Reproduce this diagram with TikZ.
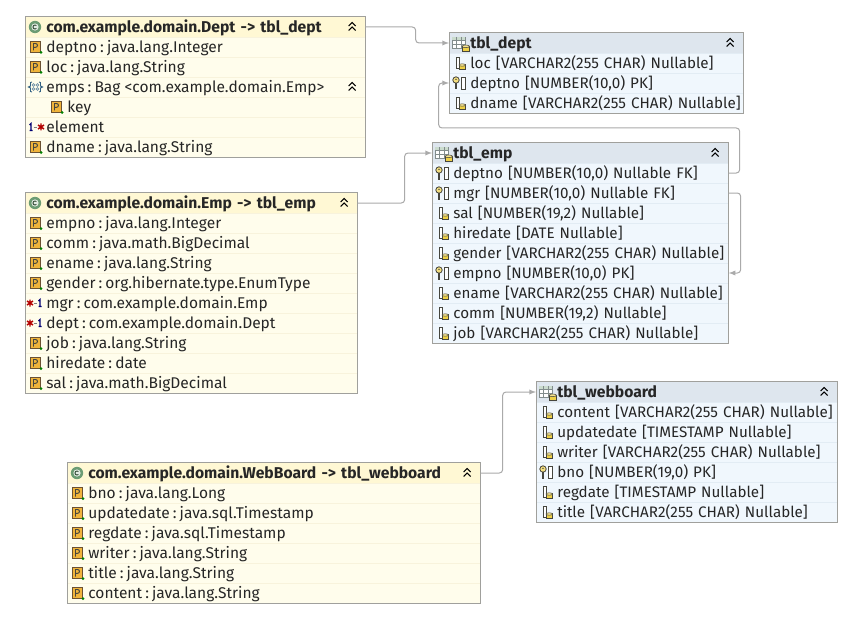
\documentclass[tikz,border=0pt]{standalone}
\usepackage{fontspec}
\setmainfont{Fira Sans}
\usetikzlibrary{arrows}
\definecolor{classfill}{RGB}{255, 253, 236}
\definecolor{classhead}{RGB}{255, 248, 212}
\definecolor{classsep}{RGB}{248, 243, 220}
\definecolor{tablefill}{RGB}{240, 247, 253}
\definecolor{tablehead}{RGB}{222, 230, 238}
\definecolor{tablesep}{RGB}{226, 236, 244}
\definecolor{frameline}{RGB}{160, 160, 156}
\definecolor{linkgray}{RGB}{170, 170, 170}
\definecolor{icondark}{RGB}{70, 70, 62}
\definecolor{iconyellow}{RGB}{238, 208, 70}
\definecolor{attrorange}{RGB}{240, 180, 60}
\definecolor{classgreen}{RGB}{108, 156, 116}
\definecolor{bagblue}{RGB}{50, 96, 130}
\definecolor{gridgray}{RGB}{130, 140, 140}
\newcommand{\tightspaces}{\spaceskip 0.2em\relax\xspaceskip 0.2em\relax}
\tikzstyle{rowbase}=[anchor=west,inner xsep=0pt,inner ysep=0pt,minimum height=15pt,text height=11pt,text depth=2.2pt,align=left,text=black!85,execute at begin node={\hspace*{15.75pt}}]
\tikzstyle{classrow}=[rowbase,fill=classfill,draw=classsep,line width=0.5pt,font=\fontsize{11.65pt}{13pt}\selectfont,execute at begin node={\tightspaces},text width=#1*0.75pt]
\tikzstyle{classhd}=[rowbase,fill=classhead,draw=classhead,line width=0.5pt,font=\fontsize{11.75pt}{13pt}\selectfont\bfseries,text width=#1*0.75pt]
\tikzstyle{tablerow}=[rowbase,fill=tablefill,draw=tablesep,line width=0.5pt,font=\fontsize{11.4pt}{13pt}\selectfont,text width=#1*0.75pt]
\tikzstyle{tablehd}=[rowbase,fill=tablehead,draw=tablehead,line width=0.5pt,font=\fontsize{11.75pt}{13pt}\selectfont\bfseries,text width=#1*0.75pt]
\tikzstyle{boxframe}=[draw=frameline,line width=0.75pt]
\tikzstyle{maplink}=[->,>=latex,draw=linkgray,line width=0.75pt,rounded corners=2.5pt]
\tikzset{
  attricon/.pic={
    \draw[fill=attrorange,draw=icondark!80!orange,line width=0.5pt] (5,-5.5) rectangle (15.5,5);
    \draw[draw=icondark,line width=0.7pt] (8.5,3.5) -- (8.5,-3.5) -- (10.5,-3.5) arc (-90:90:2 and 1.9) -- (8.5,0.3);
    \fill[green!50!black] (16,5.5) circle (1.5);
  },
  colicon/.pic={
    \draw[fill=white,draw=icondark,line width=0.6pt] (7,-6) rectangle (10,5);
    \draw[fill=iconyellow,draw=icondark,line width=0.5pt] (10,1.5) rectangle (16.5,6.5);
    \draw[fill=iconyellow!60!white,draw=icondark,line width=0.4pt] (13.25,2) ellipse (3.25 and 1.2);
  },
  keyicon/.pic={
    \draw[fill=iconyellow!70!white,draw=icondark,line width=0.6pt] (7,-3) circle (3.2);
    \fill[icondark] (7,-3.6) circle (0.8);
    \draw[draw=icondark,line width=1.3pt] (7,0.2) -- (7,6.5);
    \draw[fill=white,draw=icondark,line width=0.6pt] (12.5,-6) rectangle (16,6.5);
  },
  tableicon/.pic={
    \draw[fill=white,draw=gridgray,line width=0.55pt] (3,-6) rectangle (16,5);
    \fill[classgreen!35!white] (3.4,-5.6) rectangle (15.6,-3);
    \draw[draw=gridgray,line width=0.4pt] (3,-3) -- (16,-3) (3,1) -- (16,1) (7.5,-6) -- (7.5,5) (12,-6) -- (12,5);
    \draw[fill=iconyellow,draw=icondark,line width=0.5pt] (13,3) rectangle (20.5,8);
    \draw[fill=iconyellow!60!white,draw=icondark,line width=0.4pt] (16.75,3.3) ellipse (3.75 and 1.3);
  },
  classicon/.pic={
    \fill[classgreen] (10,0) circle (6.2);
    \fill[white!80!classgreen] (10,0) circle (3.6);
    \draw[classgreen!50!black,line width=0.7pt] (11.4,-1.4) arc (-45:-315:2);
  },
  bagicon/.pic={
    \draw[draw=bagblue,line width=0.7pt] (7,-5) -- (5.5,-4.5) -- (5.5,-1) -- (3.5,0) -- (5.5,1) -- (5.5,4.5) -- (7,5);
    \draw[draw=bagblue,line width=0.7pt] (14,-5) -- (15.5,-4.5) -- (15.5,-1) -- (17.5,0) -- (15.5,1) -- (15.5,4.5) -- (14,5);
    \draw[draw=bagblue!70!white,line width=0.5pt] (8.5,-2) circle (1.3) (12.5,-2) circle (1.3) (8.5,2) circle (1.3) (12.5,2) circle (1.3);
  },
  oneicon/.pic={
    \draw[draw=blue!45!black,line width=0.9pt] (#1-1.5,-2) -- (#1,-3.5) -- (#1,3.5) (#1-1.5,3.5) -- (#1+1.5,3.5);
  },
  manyicon/.pic={
    \draw[draw=red!70!black,line width=1.1pt] (#1,-3.5) -- (#1,3.5) (#1-3,-2) -- (#1+3,2) (#1-3,2) -- (#1+3,-2);
  },
  linkdash/.pic={
    \draw[draw=gray,line width=0.6pt] (8.5,0) -- (12,0);
  },
  collapseicon/.pic={
    \draw[draw=black,line width=0.8pt] (-17,-1) -- (-13.5,-4.5) -- (-10,-1) (-17,3.5) -- (-13.5,0) -- (-10,3.5);
  }
}

\begin{document}
\begin{tikzpicture}[x=0.75pt,y=-0.75pt]
\useasboundingbox[fill=white] (0,0) rectangle (841,631);

% class Dept
\node[classhd=340] (D0) at (25,27) {com.example.domain.Dept -> tbl\_dept};
\node[classrow=340] (D1) at (25,47) {deptno : java.lang.Integer};
\node[classrow=340] (D2) at (25,67) {loc : java.lang.String};
\node[classrow=340] (D3) at (25,87) {emps : Bag\hspace{.28em}<com.example.domain.Emp>};
\node[classrow=340] (D4) at (25,107) {\hspace*{15.75pt}key};
\node[classrow=340] (D5) at (25,127) {element};
\node[classrow=340] (D6) at (25,147) {dname : java.lang.String};
\draw[boxframe] (D0.north west) rectangle (D6.south east);
\pic at (D0.west) {classicon};
\pic at (D0.east) {collapseicon};
\pic at (D1.west) {attricon};
\pic at (D2.west) {attricon};
\pic at (D3.west) {bagicon};
\pic at (D3.east) {collapseicon};
\pic[xshift=15.75pt] at (D4.west) {attricon};
\pic at (D5.west) {oneicon=6};
\pic at (D5.west) {linkdash};
\pic at (D5.west) {manyicon=16};
\pic at (D6.west) {attricon};

% class Emp
\node[classhd=332] (E0) at (25,203) {com.example.domain.Emp -> tbl\_emp};
\node[classrow=332] (E1) at (25,223) {empno : java.lang.Integer};
\node[classrow=332] (E2) at (25,243) {comm : java.math.BigDecimal};
\node[classrow=332] (E3) at (25,263) {ename : java.lang.String};
\node[classrow=332] (E4) at (25,283) {gender : org.hibernate.type.EnumType};
\node[classrow=332] (E5) at (25,303) {mgr : com.example.domain.Emp};
\node[classrow=332] (E6) at (25,323) {dept : com.example.domain.Dept};
\node[classrow=332] (E7) at (25,343) {job : java.lang.String};
\node[classrow=332] (E8) at (25,363) {hiredate : date};
\node[classrow=332] (E9) at (25,383) {sal : java.math.BigDecimal};
\draw[boxframe] (E0.north west) rectangle (E9.south east);
\pic at (E0.west) {classicon};
\pic at (E0.east) {collapseicon};
\pic at (E1.west) {attricon};
\pic at (E2.west) {attricon};
\pic at (E3.west) {attricon};
\pic at (E4.west) {attricon};
\pic at (E5.west) {manyicon=5};
\pic at (E5.west) {linkdash};
\pic at (E5.west) {oneicon=15};
\pic at (E6.west) {manyicon=5};
\pic at (E6.west) {linkdash};
\pic at (E6.west) {oneicon=15};
\pic at (E7.west) {attricon};
\pic at (E8.west) {attricon};
\pic at (E9.west) {attricon};

% class WebBoard
\node[classhd=413] (W0) at (67,473) {com.example.domain.WebBoard -> tbl\_webboard};
\node[classrow=413] (W1) at (67,493) {bno : java.lang.Long};
\node[classrow=413] (W2) at (67,513) {updatedate : java.sql.Timestamp};
\node[classrow=413] (W3) at (67,533) {regdate : java.sql.Timestamp};
\node[classrow=413] (W4) at (67,553) {writer : java.lang.String};
\node[classrow=413] (W5) at (67,573) {title : java.lang.String};
\node[classrow=413] (W6) at (67,593) {content : java.lang.String};
\draw[boxframe] (W0.north west) rectangle (W6.south east);
\pic at (W0.west) {classicon};
\pic at (W0.east) {collapseicon};
\pic at (W1.west) {attricon};
\pic at (W2.west) {attricon};
\pic at (W3.west) {attricon};
\pic at (W4.west) {attricon};
\pic at (W5.west) {attricon};
\pic at (W6.west) {attricon};

% table tbl_dept
\node[tablehd=294] (TD0) at (449,43) {tbl\_dept};
\node[tablerow=294] (TD1) at (449,63) {loc [VARCHAR2(255 CHAR) Nullable]};
\node[tablerow=294] (TD2) at (449,83) {deptno [NUMBER(10,0) PK]};
\node[tablerow=294] (TD3) at (449,103) {dname [VARCHAR2(255 CHAR) Nullable]};
\draw[boxframe] (TD0.north west) rectangle (TD3.south east);
\pic at (TD0.west) {tableicon};
\pic at (TD0.east) {collapseicon};
\pic at (TD1.west) {colicon};
\pic at (TD2.west) {keyicon};
\pic at (TD3.west) {colicon};

% table tbl_emp
\node[tablehd=296] (TE0) at (432,153) {tbl\_emp};
\node[tablerow=296] (TE1) at (432,173) {deptno [NUMBER(10,0) Nullable FK]};
\node[tablerow=296] (TE2) at (432,193) {mgr [NUMBER(10,0) Nullable FK]};
\node[tablerow=296] (TE3) at (432,213) {sal [NUMBER(19,2) Nullable]};
\node[tablerow=296] (TE4) at (432,233) {hiredate [DATE Nullable]};
\node[tablerow=296] (TE5) at (432,253) {gender [VARCHAR2(255 CHAR) Nullable]};
\node[tablerow=296] (TE6) at (432,273) {empno [NUMBER(10,0) PK]};
\node[tablerow=296] (TE7) at (432,293) {ename [VARCHAR2(255 CHAR) Nullable]};
\node[tablerow=296] (TE8) at (432,313) {comm [NUMBER(19,2) Nullable]};
\node[tablerow=296] (TE9) at (432,333) {job [VARCHAR2(255 CHAR) Nullable]};
\draw[boxframe] (TE0.north west) rectangle (TE9.south east);
\pic at (TE0.west) {tableicon};
\pic at (TE0.east) {collapseicon};
\pic at (TE1.west) {keyicon};
\pic at (TE2.west) {keyicon};
\pic at (TE3.west) {colicon};
\pic at (TE4.west) {colicon};
\pic at (TE5.west) {colicon};
\pic at (TE6.west) {keyicon};
\pic at (TE7.west) {colicon};
\pic at (TE8.west) {colicon};
\pic at (TE9.west) {colicon};

% table tbl_webboard
\node[tablehd=301] (TW0) at (536,392) {tbl\_webboard};
\node[tablerow=301] (TW1) at (536,412) {content [VARCHAR2(255 CHAR) Nullable]};
\node[tablerow=301] (TW2) at (536,432) {updatedate [TIMESTAMP Nullable]};
\node[tablerow=301] (TW3) at (536,452) {writer [VARCHAR2(255 CHAR) Nullable]};
\node[tablerow=301] (TW4) at (536,472) {bno [NUMBER(19,0) PK]};
\node[tablerow=301] (TW5) at (536,492) {regdate [TIMESTAMP Nullable]};
\node[tablerow=301] (TW6) at (536,512) {title [VARCHAR2(255 CHAR) Nullable]};
\draw[boxframe] (TW0.north west) rectangle (TW6.south east);
\pic at (TW0.west) {tableicon};
\pic at (TW0.east) {collapseicon};
\pic at (TW1.west) {colicon};
\pic at (TW2.west) {colicon};
\pic at (TW3.west) {colicon};
\pic at (TW4.west) {keyicon};
\pic at (TW5.west) {colicon};
\pic at (TW6.west) {colicon};

\draw[maplink] (D0.east) -- ++(50,0) |- (TD0.west);
\draw[maplink] (E0.east) -- ++(47,0) |- (TE0.west);
\draw[maplink] (W0.east) -- ++(22,0) |- (TW0.west);
\draw[maplink] (TE1.east) -- ++(11,0) -- ++(0,-45) -- ++(-301,0) |- (TD2.west);
\draw[maplink] (TE2.east) -- ++(12,0) |- (TE6.east);

\end{tikzpicture}
\end{document}
